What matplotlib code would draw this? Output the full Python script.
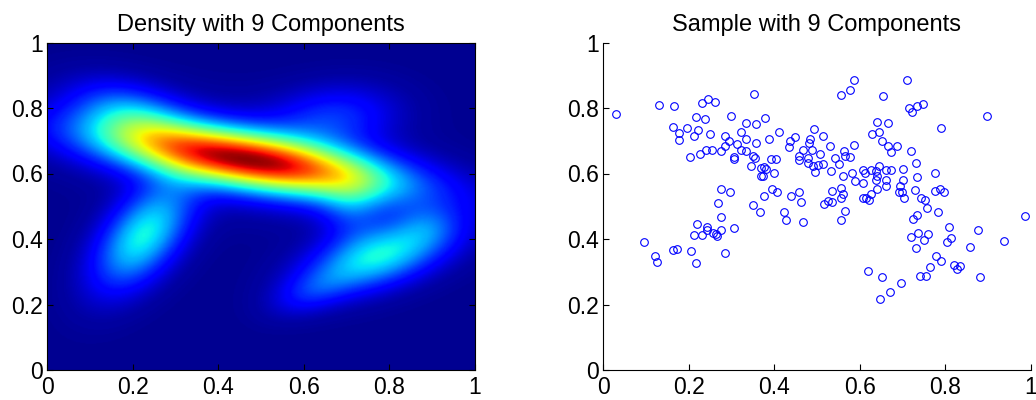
import numpy as np
import matplotlib
matplotlib.use("Agg")
import matplotlib.pyplot as plt
from matplotlib.colors import ListedColormap
from matplotlib.ticker import FormatStrFormatter

plt.rcParams['font.family'] = ['Liberation Sans', 'DejaVu Sans']

# bumps that make up the density:
# relative height, centre, sd along / across the bump axis, axis angle
comp_amp = [0.92, 0.08, 0.24, 0.37, 0.37, 0.12, 0.15, 0.10, 0.08]
comp_mx = [0.475, 0.46, 0.20, 0.225, 0.78, 0.71, 0.67, 0.62, 0.89]
comp_my = [0.640, 0.645, 0.775, 0.41, 0.35, 0.50, 0.77, 0.24, 0.44]
comp_sa = [0.23, 0.24, 0.10, 0.12, 0.12, 0.05, 0.10, 0.07, 0.05]
comp_sb = [0.058, 0.10, 0.06, 0.06, 0.06, 0.07, 0.065, 0.04, 0.045]
comp_ang = [-12, -12, -25, 62, 25, 0, 10, 30, 20]

# sample points
sample_x = [
    0.030, 0.132, 0.167, 0.163, 0.178, 0.178, 0.196, 0.213, 0.217, 0.222, 0.204, 0.226, 0.232,
    0.096, 0.121, 0.125, 0.163, 0.173, 0.206, 0.218, 0.220, 0.212, 0.231,
    0.245, 0.261, 0.352, 0.238, 0.300, 0.251, 0.284, 0.294, 0.312, 0.322, 0.333, 0.358, 0.378,
    0.334, 0.358, 0.388, 0.411, 0.241, 0.254, 0.276, 0.285, 0.305, 0.307, 0.323, 0.335, 0.351,
    0.354, 0.346, 0.368, 0.377, 0.382, 0.368, 0.374, 0.399, 0.393, 0.404, 0.434, 0.437, 0.449,
    0.457, 0.459, 0.467,
    0.275, 0.296, 0.269, 0.276, 0.306, 0.351, 0.367, 0.377, 0.395, 0.407, 0.423, 0.428, 0.440,
    0.459, 0.463, 0.468, 0.242, 0.244, 0.258, 0.263, 0.267, 0.276, 0.286,
    0.586, 0.576, 0.555, 0.654, 0.640, 0.667, 0.628, 0.646, 0.653, 0.667, 0.673, 0.688,
    0.494, 0.514, 0.483, 0.481, 0.506, 0.488, 0.530, 0.562, 0.565, 0.543, 0.576, 0.587, 0.551,
    0.533, 0.561, 0.582, 0.588, 0.607, 0.607, 0.612, 0.627, 0.637, 0.645, 0.640, 0.639, 0.661,
    0.674, 0.662, 0.661, 0.640, 0.625, 0.615, 0.607, 0.621, 0.701, 0.700, 0.693, 0.692, 0.698,
    0.704, 0.479, 0.479, 0.491, 0.502, 0.514, 0.495,
    0.555, 0.536, 0.561, 0.557, 0.516, 0.526, 0.536, 0.566, 0.555,
    0.619, 0.653, 0.696, 0.671, 0.648,
    0.710, 0.716, 0.721, 0.733, 0.748, 0.790, 0.897, 0.720, 0.732, 0.733, 0.728, 0.776, 0.775,
    0.787, 0.797, 0.743, 0.752, 0.757, 0.783, 0.733, 0.724, 0.986, 0.809, 0.876, 0.936, 0.735,
    0.760, 0.720, 0.751, 0.731, 0.813, 0.804, 0.858, 0.779, 0.790, 0.764, 0.819, 0.835, 0.826,
    0.740, 0.755, 0.880,
]
sample_y = [
    0.782, 0.809, 0.806, 0.741, 0.723, 0.701, 0.738, 0.713, 0.771, 0.734, 0.649, 0.659, 0.816,
    0.392, 0.349, 0.330, 0.366, 0.368, 0.364, 0.326, 0.446, 0.412, 0.413,
    0.828, 0.818, 0.843, 0.767, 0.777, 0.722, 0.716, 0.699, 0.689, 0.728, 0.754, 0.751, 0.769,
    0.705, 0.694, 0.705, 0.726, 0.671, 0.671, 0.668, 0.685, 0.650, 0.644, 0.672, 0.669, 0.652,
    0.646, 0.624, 0.617, 0.620, 0.613, 0.591, 0.593, 0.601, 0.644, 0.644, 0.680, 0.698, 0.711,
    0.652, 0.642, 0.673,
    0.552, 0.545, 0.509, 0.468, 0.435, 0.505, 0.482, 0.530, 0.553, 0.543, 0.482, 0.459, 0.530,
    0.544, 0.514, 0.452, 0.438, 0.426, 0.418, 0.415, 0.408, 0.428, 0.357,
    0.885, 0.856, 0.839, 0.836, 0.757, 0.754, 0.722, 0.727, 0.698, 0.685, 0.667, 0.685,
    0.737, 0.716, 0.706, 0.693, 0.661, 0.673, 0.685, 0.668, 0.652, 0.647, 0.651, 0.687, 0.630,
    0.609, 0.591, 0.603, 0.578, 0.570, 0.612, 0.601, 0.612, 0.607, 0.622, 0.591, 0.581, 0.612,
    0.612, 0.579, 0.563, 0.554, 0.538, 0.526, 0.525, 0.520, 0.614, 0.579, 0.561, 0.545, 0.542,
    0.525, 0.646, 0.632, 0.624, 0.626, 0.630, 0.606,
    0.557, 0.547, 0.538, 0.525, 0.507, 0.515, 0.512, 0.484, 0.459,
    0.303, 0.284, 0.266, 0.239, 0.218,
    0.887, 0.800, 0.787, 0.807, 0.812, 0.740, 0.775, 0.670, 0.632, 0.588, 0.550, 0.601, 0.547,
    0.553, 0.544, 0.524, 0.520, 0.494, 0.483, 0.474, 0.461, 0.470, 0.438, 0.426, 0.393, 0.419,
    0.416, 0.405, 0.398, 0.374, 0.404, 0.392, 0.375, 0.347, 0.332, 0.316, 0.320, 0.319, 0.308,
    0.286, 0.286, 0.284,
]

ticks = [0, 0.2, 0.4, 0.6, 0.8, 1]

# jet as MATLAB draws it (ends at #00008F / #800000)
mjet = ListedColormap(plt.cm.jet(np.linspace(0.016, 0.984, 256)))


def mixture_density(xx, yy):
    z = np.zeros_like(xx)
    for amp, mx, my, sa, sb, ang in zip(comp_amp, comp_mx, comp_my, comp_sa, comp_sb, comp_ang):
        t = np.deg2rad(ang)
        dx, dy = xx - mx, yy - my
        u = dx * np.cos(t) + dy * np.sin(t)
        v = -dx * np.sin(t) + dy * np.cos(t)
        z += amp * np.exp(-0.5 * ((u / sa) ** 2 + (v / sb) ** 2))
    return z


def style_axes(ax, box):
    ax.set_xlim(0, 1)
    ax.set_ylim(0, 1)
    ax.set_xticks(ticks)
    ax.set_yticks(ticks)
    ax.xaxis.set_major_formatter(FormatStrFormatter('%g'))
    ax.yaxis.set_major_formatter(FormatStrFormatter('%g'))
    ax.tick_params(direction='in', length=4, width=0.8, labelsize=16.5, top=box, right=box)
    ax.tick_params(axis='x', pad=4)
    ax.tick_params(axis='y', pad=3)
    for side in ['top', 'right']:
        ax.spines[side].set_visible(box)
    for s in ax.spines.values():
        s.set_linewidth(0.8)


fig = plt.figure(figsize=(10.36, 4.0), dpi=100)

# 密度图
ax1 = fig.add_axes([47 / 1036, 30 / 400, 428 / 1036, 327.5 / 400])
g = np.linspace(0, 1, 400)
xx, yy = np.meshgrid(g, g)
zz = mixture_density(xx, yy)
ax1.imshow(zz, extent=[0, 1, 0, 1], origin='lower', cmap=mjet, aspect='auto',
           interpolation='bilinear')
style_axes(ax1, True)
ax1.set_title('Density with 9 Components', fontsize=17, pad=8.5)

# 样本散点
ax2 = fig.add_axes([603 / 1036, 30 / 400, 428 / 1036, 327.5 / 400])
ax2.plot(sample_x, sample_y, 'o', mfc='none', mec='b', ms=5.5, mew=0.8)
style_axes(ax2, False)
ax2.set_title('Sample with 9 Components', fontsize=17, pad=8.5)

fig.savefig('out.png', dpi=100)
